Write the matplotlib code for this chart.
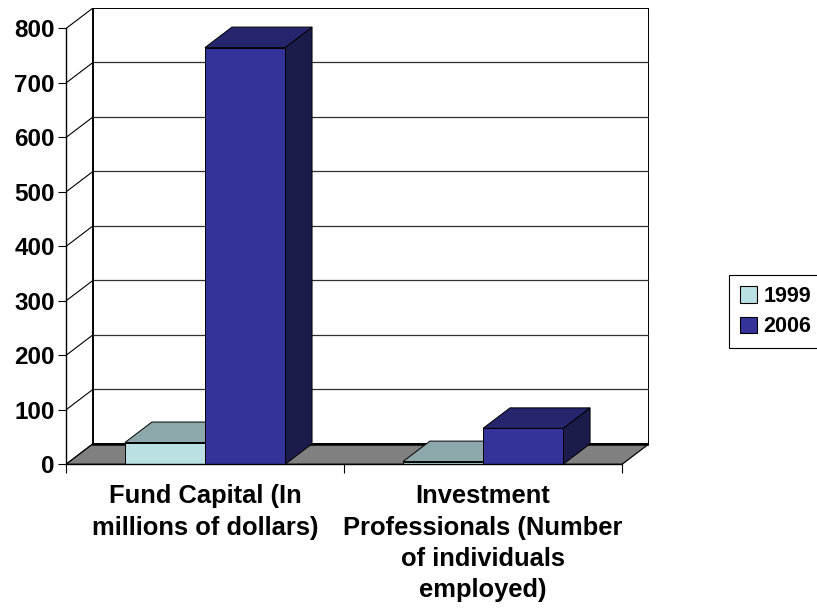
import matplotlib.pyplot as plt
from matplotlib.patches import Polygon, Patch

plt.rcParams['font.family'] = ['Liberation Sans', 'DejaVu Sans']
plt.rcParams['font.weight'] = 'bold'

# chart data
categories = ['Fund Capital (In\nmillions of dollars)',
              'Investment\nProfessionals (Number\nof individuals\nemployed)']
years = ['1999', '2006']
values_1999 = [40, 5]
values_2006 = [765, 66]
y_ticks = [0, 100, 200, 300, 400, 500, 600, 700, 800]

front_colors = ['#bbe0e3', '#333399']
top_colors = ['#8ca8aa', '#26266f']
side_colors = ['#7a9496', '#1c1c4c']

# depth of the 3d box in data units (x in category widths, y in values)
dx = 0.097
dy = 37.6
bar_w = 0.288
ymax = 800

fig = plt.figure(figsize=(8.17, 6.09), dpi=100)
ax = fig.add_axes([66 / 817, 144.7 / 609, 583 / 817, 456.3 / 609])
ax.set_xlim(-0.5, 1.5 + dx)
ax.set_ylim(0, ymax + dy)

x_left, x_right = -0.5, 1.5

# back wall
ax.add_patch(Polygon([(x_left + dx, dy), (x_right + dx, dy),
                      (x_right + dx, ymax + dy), (x_left + dx, ymax + dy)],
                     closed=True, facecolor='white', edgecolor='black',
                     lw=1.4, zorder=0))
for v in y_ticks[1:-1]:
    ax.plot([x_left + dx, x_right + dx], [v + dy, v + dy],
            color='#303030', lw=0.9, zorder=1)
# left side wall lines
for v in y_ticks:
    ax.plot([x_left, x_left + dx], [v, v + dy], color='black', lw=0.8, zorder=1)

# floor
ax.add_patch(Polygon([(x_left, 0), (x_right, 0), (x_right + dx, dy),
                      (x_left + dx, dy)], closed=True, facecolor='#808080',
                     edgecolor='black', lw=0.9, zorder=2))
ax.plot([x_left + dx, x_right + dx], [dy, dy], color='black', lw=1.8, zorder=2)

# bars with top and side faces
series = [values_1999, values_2006]
for i in range(len(categories)):
    for j, vals in enumerate(series):
        v = vals[i]
        x0 = i - bar_w + j * bar_w
        z = 3 + i * 3 + j
        ax.add_patch(Polygon([(x0 + bar_w, 0), (x0 + bar_w + dx, dy),
                              (x0 + bar_w + dx, v + dy), (x0 + bar_w, v)],
                             closed=True, facecolor=side_colors[j],
                             edgecolor='black', lw=0.7, zorder=z))
        ax.add_patch(Polygon([(x0, v), (x0 + bar_w, v), (x0 + bar_w + dx, v + dy),
                              (x0 + dx, v + dy)], closed=True,
                             facecolor=top_colors[j], edgecolor='black',
                             lw=0.7, zorder=z))
        ax.bar(x0, v, width=bar_w, align='edge', color=front_colors[j],
               edgecolor='black', lw=0.7, zorder=z + 0.5)

# axes styling
for s in ['top', 'right']:
    ax.spines[s].set_visible(False)
ax.spines['left'].set_bounds(0, ymax)
ax.spines['bottom'].set_bounds(x_left, x_right)
ax.spines['left'].set_linewidth(1.0)
ax.spines['bottom'].set_linewidth(1.0)
ax.spines['left'].set_zorder(20)
ax.spines['bottom'].set_zorder(20)
ax.set_yticks(y_ticks)
ax.set_yticklabels([str(t) for t in y_ticks], fontsize=17.5, fontweight='bold')
ax.tick_params(axis='y', direction='out', length=6, width=0.8, pad=2)
ax.set_xticks([0, 1])
ax.set_xticklabels(categories, fontsize=18.4, fontweight='bold', linespacing=1.38)
ax.set_xticks([x_left, 0.5, x_right], minor=True)
ax.tick_params(axis='x', which='major', length=0, pad=14.5)
ax.tick_params(axis='x', which='minor', direction='out', length=6.5, width=0.8)
ax.set_facecolor('none')

handles = [Patch(facecolor=front_colors[k], edgecolor='black', lw=0.8, label=years[k])
           for k in range(2)]
leg = fig.legend(handles=handles, loc='upper left',
                 bbox_to_anchor=(729 / 817, 1 - 275 / 609),
                 prop={'size': 15.5, 'weight': 'bold'}, fancybox=False,
                 edgecolor='black', framealpha=1, handlelength=0.8,
                 handleheight=0.8, handletextpad=0.3, labelspacing=0.45,
                 borderpad=0.5, borderaxespad=0)
leg.get_frame().set_linewidth(0.8)

fig.savefig('out.png', dpi=100)
